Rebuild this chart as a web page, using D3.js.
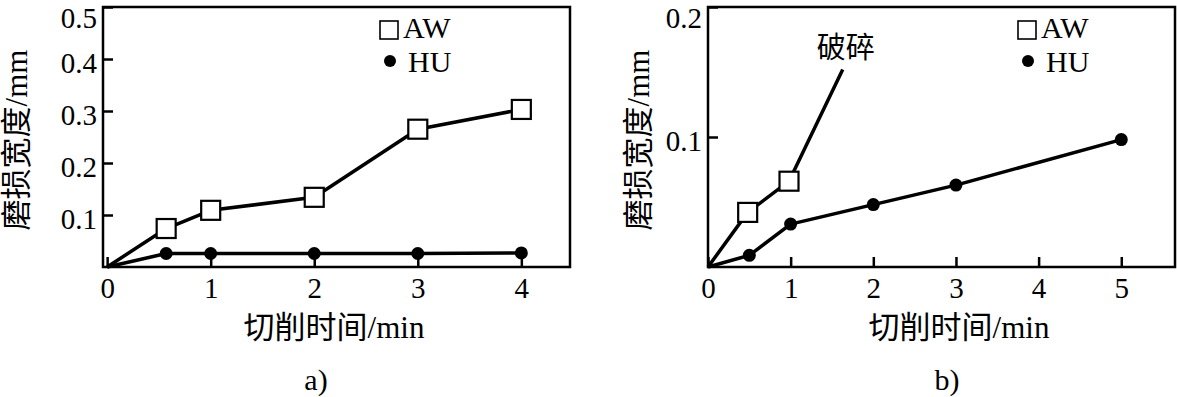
<!DOCTYPE html>
<html>
<head>
<meta charset="utf-8">
<script src="https://cdn.jsdelivr.net/npm/d3@7"></script>
<style>
  body { margin: 0; background: #fff; }
  svg { display: block; }
  text { font-family: "Liberation Serif", "Noto Sans CJK SC", serif; fill: #000; }
</style>
</head>
<body>
<div id="chart"></div>
<script>
//panel a data (time in min, wear in mm)
const timeA = [0, 0.57, 1, 2, 3, 4];
const awA = [0, 0.074, 0.109, 0.134, 0.265, 0.303];
const huA = [0, 0.026, 0.026, 0.026, 0.026, 0.027];
const xTicksA = [0, 1, 2, 3, 4];
const yTicksA = [0.1, 0.2, 0.3, 0.4, 0.5];

//panel b data
const awTimeB = [0, 0.48, 0.98];
const awB = [0, 0.042, 0.066];
const crushTime = 1.63; //AW line runs on to here, where the tool broke
const crushWear = 0.152;
const huTimeB = [0, 0.5, 1, 2, 3, 5];
const huB = [0, 0.009, 0.033, 0.048, 0.063, 0.098];
const xTicksB = [0, 1, 2, 3, 4, 5];
const yTicksB = [0.1, 0.2];

const seriesNames = ["AW", "HU"];
const xTitle = "切削时间/min";
const yTitle = "磨损宽度/mm";

const width = 1177;
const height = 397;

const svg = d3.select("#chart")
  .append("svg")
  .attr("width", width)
  .attr("height", height);

svg.append("rect").attr("width", width).attr("height", height).attr("fill", "#fff");

const zip = (xs, ys) => xs.map((t, i) => [t, ys[i]]);

function drawPanel(p) {
  const x = p.x;
  const y = p.y;
  const g = svg.append("g");

  const [x0, x1] = x.range();
  const [y0, y1] = y.range();

  //x axis, ticks pointing inward
  const xAxis = g.append("g")
    .attr("transform", `translate(0,${y0})`)
    .call(d3.axisBottom(x).tickValues(p.xTicks).tickFormat(d3.format("d"))
      .tickSize(-10).tickSizeOuter(0).tickPadding(10));

  //y axis
  const yAxis = g.append("g")
    .attr("transform", `translate(${x0},0)`)
    .call(d3.axisLeft(y).tickValues(p.yTicks).tickFormat(d3.format(".1f"))
      .tickSize(-10).tickSizeOuter(0).tickPadding(6));

  [xAxis, yAxis].forEach((a) => {
    a.select(".domain").remove();
    a.attr("font-family", null).attr("font-size", 29);
    a.selectAll("line").attr("stroke", "#000").attr("stroke-width", 2.5);
    a.selectAll("text").attr("fill", "#000");
  });
  //top label sits a bit lower so it stays inside the page
  const yMax = d3.max(p.yTicks);
  yAxis.selectAll("text").attr("dy", (d) => (d === yMax ? "0.69em" : "0.45em"));

  //frame
  g.append("rect")
    .attr("x", x0).attr("y", y1)
    .attr("width", x1 - x0).attr("height", y0 - y1)
    .attr("fill", "none").attr("stroke", "#000").attr("stroke-width", 2.5);

  const line = d3.line().x((d) => x(d[0])).y((d) => y(d[1]));

  p.series.forEach((s) => {
    g.append("path")
      .datum(s.points)
      .attr("d", line)
      .attr("fill", "none")
      .attr("stroke", "#000")
      .attr("stroke-width", 3.5)
      .attr("stroke-linejoin", "round");
  });

  //markers (none at the origin)
  p.series.forEach((s) => {
    const pts = s.points.filter((d, i) => i > 0 && i < s.marked);
    if (s.name === "AW") {
      g.selectAll(null).data(pts).enter().append("rect")
        .attr("x", (d) => x(d[0]) - 9.5)
        .attr("y", (d) => y(d[1]) - 9.5)
        .attr("width", 19).attr("height", 19)
        .attr("fill", "#fff").attr("stroke", "#000").attr("stroke-width", 2.2);
    } else {
      g.selectAll(null).data(pts).enter().append("circle")
        .attr("cx", (d) => x(d[0]))
        .attr("cy", (d) => y(d[1]))
        .attr("r", 6.5)
        .attr("fill", "#000");
    }
  });

  //legend
  const lg = g.append("g").attr("transform", `translate(${p.legend[0]},${p.legend[1]})`);
  lg.append("rect").attr("x", -9).attr("y", -9).attr("width", 18).attr("height", 18)
    .attr("fill", "#fff").attr("stroke", "#000").attr("stroke-width", 1.6);
  lg.append("circle").attr("cx", 1).attr("cy", 31).attr("r", 6).attr("fill", "#000");
  lg.append("text").attr("x", 14).attr("y", 8).attr("font-size", 30).text(seriesNames[0]);
  lg.append("text").attr("x", 19).attr("y", 42).attr("font-size", 30).text(seriesNames[1]);

  //titles
  g.append("text")
    .attr("x", p.xTitlePos[0]).attr("y", p.xTitlePos[1])
    .attr("text-anchor", "middle").attr("font-size", 31)
    .text(xTitle);

  g.append("text")
    .attr("transform", `translate(${p.yTitlePos[0]},${p.yTitlePos[1]}) rotate(-90)`)
    .attr("text-anchor", "middle").attr("dominant-baseline", "central")
    .attr("font-size", 31)
    .text(yTitle);

  g.append("text")
    .attr("x", p.tagPos[0]).attr("y", p.tagPos[1])
    .attr("text-anchor", "middle").attr("font-size", 30)
    .text(p.tag);

  return g;
}

const xA = d3.scaleLinear().domain([-0.04, 4.47]).range([103, 570]);
const yA = d3.scaleLinear().domain([0, 0.5]).range([267, 7]);

drawPanel({
  x: xA, y: yA,
  xTicks: xTicksA, yTicks: yTicksA,
  series: [
    { name: "AW", points: zip(timeA, awA), marked: timeA.length },
    { name: "HU", points: zip(timeA, huA), marked: timeA.length },
  ],
  legend: [389, 30],
  xTitlePos: [334, 338],
  yTitlePos: [16, 140],
  tagPos: [316, 390],
  tag: "a)",
});

const xB = d3.scaleLinear().domain([0, 5.65]).range([708, 1175]);
const yB = d3.scaleLinear().domain([0, 0.2]).range([267, 7]);

const awPointsB = zip(awTimeB, awB).concat([[crushTime, crushWear]]);

const gB = drawPanel({
  x: xB, y: yB,
  xTicks: xTicksB, yTicks: yTicksB,
  series: [
    { name: "AW", points: awPointsB, marked: awTimeB.length },
    { name: "HU", points: zip(huTimeB, huB), marked: huTimeB.length },
  ],
  legend: [1027, 30],
  xTitlePos: [959, 338],
  yTitlePos: [638, 140],
  tagPos: [947, 390],
  tag: "b)",
});

//label at the end of the AW line
gB.append("text")
  .attr("x", xB(crushTime) + 3)
  .attr("y", yB(crushWear) - 11)
  .attr("text-anchor", "middle")
  .attr("font-size", 29)
  .text("破碎");
</script>
</body>
</html>
